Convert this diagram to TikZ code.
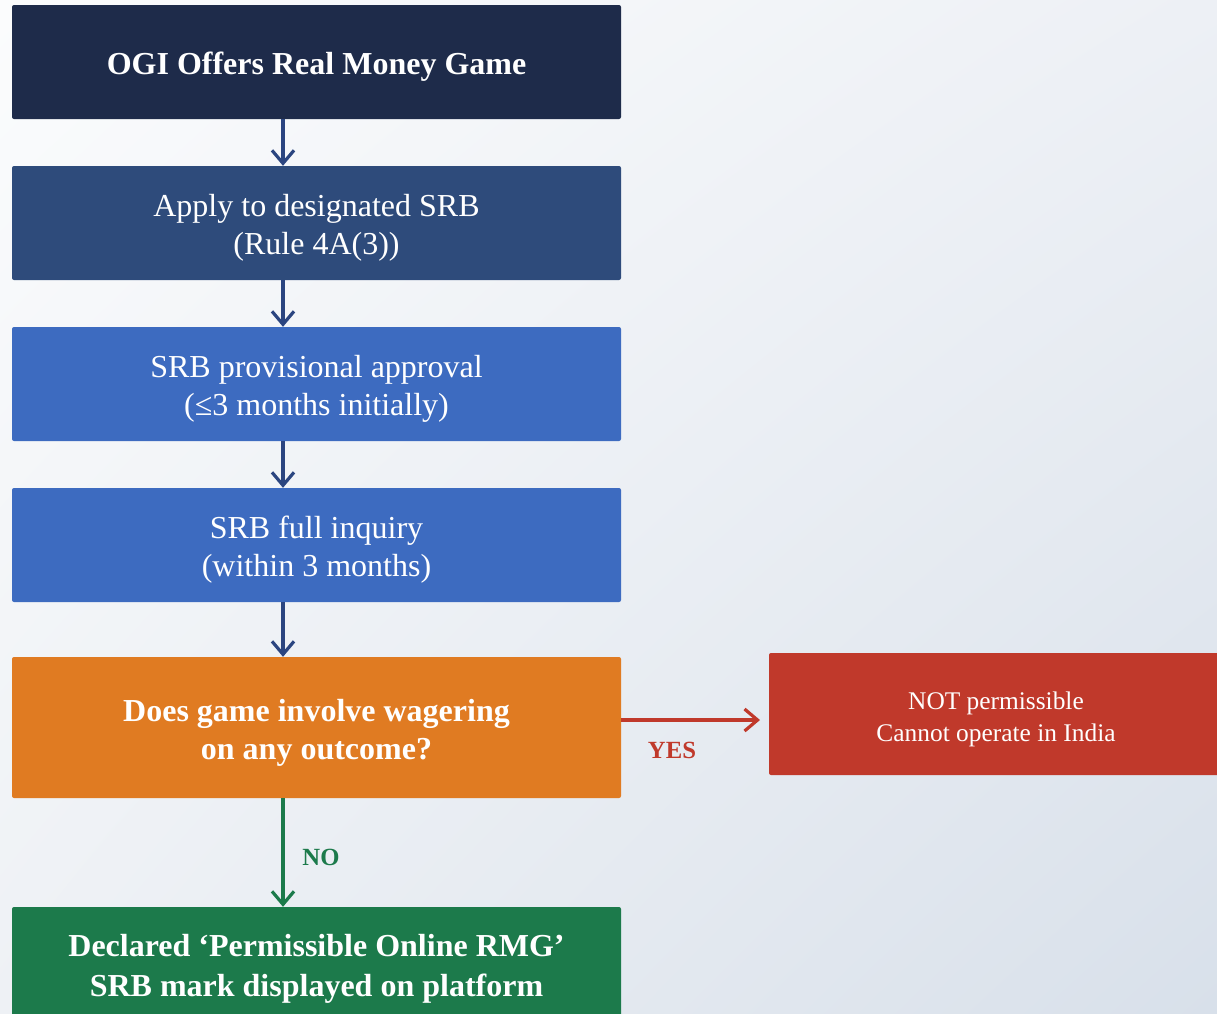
\documentclass[tikz,border=0pt]{standalone}
\usepackage{fontspec}
\setmainfont{Liberation Serif}
\usetikzlibrary{arrows.meta,positioning,shadings}
\definecolor{navy}{HTML}{1E2B4A}
\definecolor{steel}{HTML}{2E4B7B}
\definecolor{midblue}{HTML}{3D6BC0}
\definecolor{amber}{HTML}{E07B22}
\definecolor{leaf}{HTML}{1C7A4B}
\definecolor{brick}{HTML}{C0392B}
\definecolor{arrblue}{HTML}{2B4580}
\definecolor{bgtl}{HTML}{FBFCFD}
\definecolor{bgtr}{HTML}{EDF0F5}
\definecolor{bgbl}{HTML}{EEF1F5}
\definecolor{bgbr}{HTML}{D8E0EA}
\tikzset{
  flowbox/.style={rounded corners=2pt,align=center,text=white,
                  minimum width=609pt,minimum height=114pt,inner sep=4pt,
                  font=\fontsize{32}{38}\selectfont,text height=70pt},
  headbox/.style={flowbox,fill=navy,font=\fontsize{32}{38}\selectfont\bfseries,
                  text height=32pt},
  stepbox/.style={flowbox,fill=steel},
  bluebox/.style={flowbox,fill=midblue},
  askbox/.style={flowbox,fill=amber,minimum height=141pt,
                 font=\fontsize{32}{38}\selectfont\bfseries},
  passbox/.style={flowbox,fill=leaf,font=\fontsize{32}{40}\selectfont\bfseries,
                  text height=72pt},
  failbox/.style={flowbox,fill=brick,minimum width=454pt,minimum height=122pt,
                  font=\fontsize{25.4}{32}\selectfont,text height=59.5pt},
  flowarr/.style={-{Straight Barb[length=13pt,width=22pt]},line width=3.2pt,
                  draw=arrblue},
  yesarr/.style={flowarr,draw=brick},
  noarr/.style={flowarr,draw=leaf},
  branchlbl/.style={font=\fontsize{24.7}{28}\selectfont\bfseries,inner sep=0pt}
}
\begin{document}
\begin{tikzpicture}[x=1pt,y=-1pt]
    \clip (0,0) rectangle (1217,1013);
    \useasboundingbox (0,0) rectangle (1217,1013);
    \shade[upper left=bgtl,upper right=bgtr,lower left=bgbl,lower right=bgbr]
      (0,0) rectangle (1217,1013);

    \coordinate (col) at (283,0);

    \node[headbox] (offer) at (316.5,62) {OGI Offers Real Money Game};
    \node[stepbox] (apply) at (316.5,223) {Apply to designated SRB\\(Rule 4A(3))};
    \node[bluebox] (prov) at (316.5,384) {SRB provisional approval\\(≤3 months initially)};
    \node[bluebox] (inquiry) at (316.5,545) {SRB full inquiry\\(within 3 months)};
    \node[askbox] (wager) at (316.5,727.5) {Does game involve wagering\\on any outcome?};
    \node[passbox] (permit) at (316.5,964) {Declared ‘Permissible Online RMG’\\SRB mark displayed on platform};
    \node[failbox] (banned) at (996,714) {NOT permissible\\Cannot operate in India};

    \draw[flowarr] (offer.south -| col) -- (apply.north -| col);
    \draw[flowarr] (apply.south -| col) -- (prov.north -| col);
    \draw[flowarr] (prov.south -| col) -- (inquiry.north -| col);
    \draw[flowarr] (inquiry.south -| col) -- (wager.north -| col);

    \coordinate (yesend) at (760,720);
    \draw[yesarr] (wager.east |- yesend) -- (yesend);
    \node[branchlbl,text=brick] (yes) at (672,750) {YES};

    \draw[noarr] (wager.south -| col) -- (permit.north -| col);
    \node[branchlbl,text=leaf] (no) at (321,857) {NO};
\end{tikzpicture}
\end{document}
